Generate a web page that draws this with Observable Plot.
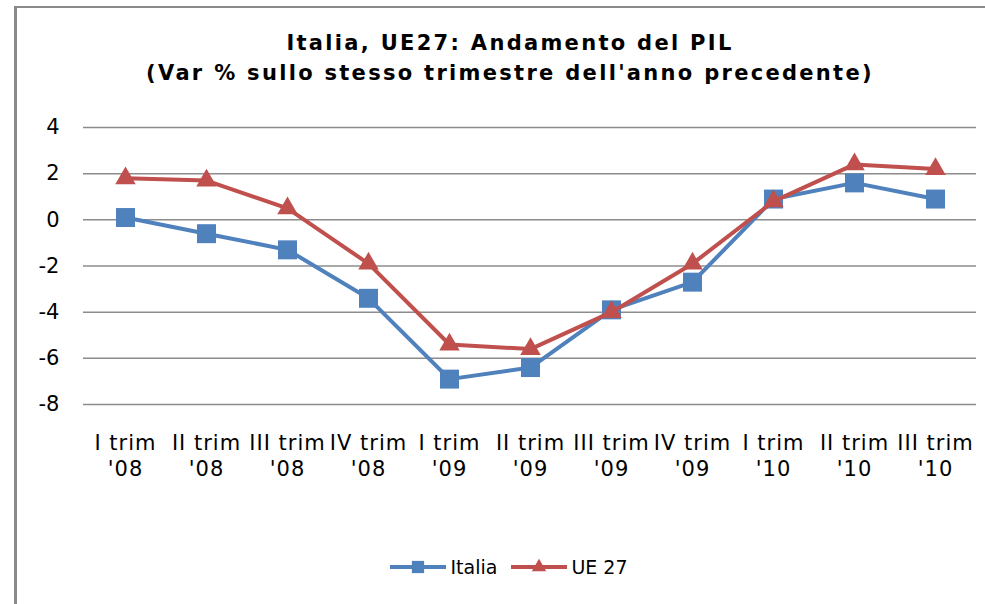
<!DOCTYPE html>
<html>
<head>
<meta charset="utf-8">
<script src="https://cdn.jsdelivr.net/npm/d3@7"></script>
<script src="https://cdn.jsdelivr.net/npm/@observablehq/plot@0.6"></script>
<style>
  html, body { margin: 0; padding: 0; background: #fff; }
  body { width: 985px; height: 604px; overflow: hidden; position: relative; font-family: "DejaVu Sans", Verdana, sans-serif; color: #000; }
  #frame { position: absolute; left: 14px; top: 6px; width: 990px; height: 620px; border-left: 3px solid #8a8a8a; border-top: 2px solid #8a8a8a; box-sizing: border-box; }
  #title { position: absolute; left: 0; width: 1020px; top: 28px; text-align: center; font-weight: bold; font-size: 21px; letter-spacing: 2.3px; line-height: 30px; white-space: nowrap; }
  #chart { position: absolute; left: 0; top: 105px; }
  #chart svg g[aria-label="x-axis tick label"] text { letter-spacing: 1px; }
  #legend { position: absolute; left: 0; width: 1018px; top: 554px; height: 26px; display: flex; justify-content: center; align-items: center; font-size: 19px; }
  #legend .item { display: flex; align-items: center; margin: 0 7px; }
  #legend svg { margin-right: 4px; }
</style>
</head>
<body>
<div id="frame"></div>
<div id="title">Italia, UE27: Andamento del PIL<br>(Var % sullo stesso trimestre dell'anno precedente)</div>
<div id="chart"></div>
<div id="legend"></div>
<script>
// ---- data ----
const quarters = ["I trim", "II trim", "III trim", "IV trim", "I trim", "II trim", "III trim", "IV trim", "I trim", "II trim", "III trim"];
const years = ["'08", "'08", "'08", "'08", "'09", "'09", "'09", "'09", "'10", "'10", "'10"];
const italia = [0.1, -0.6, -1.3, -3.4, -6.9, -6.4, -3.9, -2.7, 0.9, 1.6, 0.9];
const ue27 = [1.8, 1.7, 0.5, -1.9, -5.4, -5.6, -4.0, -1.9, 0.8, 2.4, 2.2];
const seriesNames = ["Italia", "UE 27"];
const yTicks = [-8, -6, -4, -2, 0, 2, 4];

// ---- build ----
const categories = quarters.map((q, i) => `${q}\n${years[i]}`);
const colors = {"Italia": "#4F81BD", "UE 27": "#C0504D"};
const rows = [];
categories.forEach((c, i) => {
  rows.push({cat: c, series: seriesNames[0], value: italia[i]});
  rows.push({cat: c, series: seriesNames[1], value: ue27[i]});
});
const itRows = rows.filter(d => d.series === "Italia");
const ueRows = rows.filter(d => d.series === "UE 27");

const chart = Plot.plot({
  width: 985,
  height: 400,
  marginLeft: 83,
  marginRight: 9,
  marginTop: 22,
  marginBottom: 101,
  style: {fontFamily: "'DejaVu Sans', Verdana, sans-serif", color: "#000", background: "transparent", overflow: "visible"},
  x: {type: "point", domain: categories, padding: 0.5},
  y: {domain: [-8, 4]},
  marks: [
    Plot.ruleY(yTicks, {stroke: "#8c8c8c", strokeWidth: 1.5, strokeOpacity: 1}),
    Plot.axisY({ticks: yTicks, tickSize: 0, tickPadding: 24, fontSize: 21, label: null, tickFormat: d => String(d)}),
    Plot.axisX({tickSize: 0, tickPadding: 28, fontSize: 21, lineHeight: 1.2, label: null, tickFormat: d => d}),
    Plot.line(itRows, {x: "cat", y: "value", stroke: colors["Italia"], strokeWidth: 4}),
    Plot.dot(itRows, {x: "cat", y: "value", symbol: "square", r: 10.7, fill: colors["Italia"], stroke: "none"}),
    Plot.line(ueRows, {x: "cat", y: "value", stroke: colors["UE 27"], strokeWidth: 4}),
    Plot.dot(ueRows, {x: "cat", y: "value", symbol: "triangle", r: 7.6, fill: colors["UE 27"], stroke: "none"})
  ]
});
document.getElementById("chart").appendChild(chart);

// ---- legend ----
const legend = d3.select("#legend");
seriesNames.forEach(name => {
  const item = legend.append("div").attr("class", "item");
  const s = item.append("svg").attr("width", 56).attr("height", 20);
  s.append("line").attr("x1", 0).attr("x2", 56).attr("y1", 10).attr("y2", 10)
    .attr("stroke", colors[name]).attr("stroke-width", 4);
  const sym = name === "Italia" ? d3.symbolSquare : d3.symbolTriangle;
  const size = name === "Italia" ? 150 : 90;
  s.append("path").attr("d", d3.symbol(sym, size)()).attr("transform", "translate(28,10)").attr("fill", colors[name]);
  item.append("span").text(name);
});
</script>
</body>
</html>
